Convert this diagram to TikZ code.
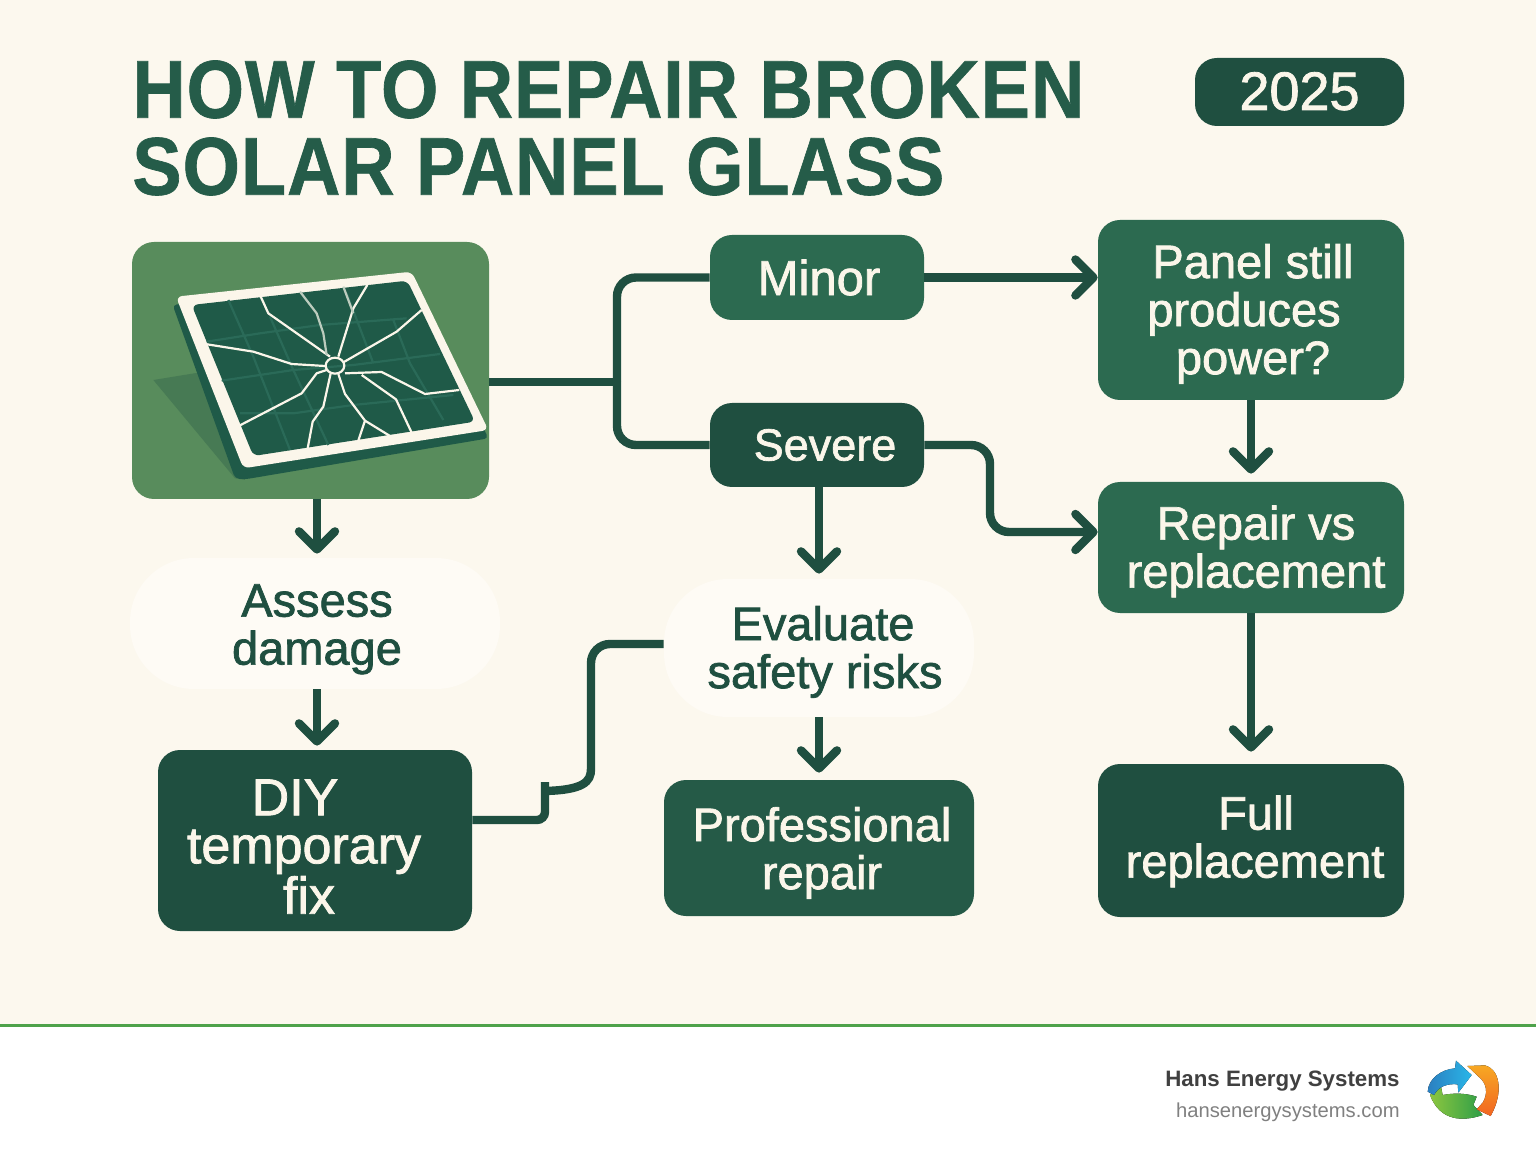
\documentclass[tikz,border=0pt]{standalone}
\usepackage{fontspec}
\setmainfont{Liberation Sans}
\newfontfamily\boxfont[FakeBold=1.5]{Liberation Sans}
\newfontfamily\titlefont[FakeStretch=0.9,LetterSpace=1.2,FakeBold=0.8]{Liberation Sans}
\usetikzlibrary{arrows.meta,positioning}
\definecolor{paper}{HTML}{FCF8EE}
\definecolor{deepgreen}{HTML}{1F4F40}
\definecolor{midgreen}{HTML}{2C6A50}
\definecolor{shadegreen}{HTML}{255A47}
\definecolor{titlegreen}{HTML}{255C49}
\definecolor{softwhite}{HTML}{FEFBF5}
\definecolor{glass}{HTML}{1F5A48}
\definecolor{gridteal}{HTML}{2A6A58}
\definecolor{grass}{HTML}{588C5C}
\definecolor{cream}{HTML}{FBF6EA}
\definecolor{rulegreen}{HTML}{4EA24A}
\newcommand{\dropline}[1]{\rule{0pt}{#1pt}}

\begin{document}
\begin{tikzpicture}[
x=0.5pt,y=-0.5pt,
box/.style={rounded corners=11pt,inner sep=0pt,align=center,font=\boxfont\fontsize{23.5}{24}\selectfont},
midbox/.style={box,fill=midgreen,text=cream},
darkbox/.style={box,fill=deepgreen,text=cream},
softbox/.style={box,rounded corners=32pt,fill=softwhite,text=deepgreen},
wire/.style={line width=4.2pt,draw=deepgreen,rounded corners=9.5pt},
flow/.style={wire,-{Straight Barb[length=9pt,width=18pt,round]},shorten >=2pt}]
    % Page and footer
    \fill[paper] (0,0) rectangle (1536,1154);
    \fill[white] (0,1025) rectangle (1536,1154);
    \fill[rulegreen] (0,1024) rectangle (1536,1027);

    \node[anchor=west,inner sep=0pt,align=left,text=titlegreen,font=\titlefont\bfseries\fontsize{41}{38.5}\selectfont] (title) at (132,128)
        {HOW TO REPAIR BROKEN\\SOLAR PANEL GLASS};
    \node[darkbox,minimum width=104.5pt,minimum height=34pt,font=\boxfont\fontsize{27}{27}\selectfont] (badge) at (1299.5,92) {\raisebox{1pt}{2025}};

    % Flow boxes
    \node[box,fill=grass,minimum width=178.5pt,minimum height=128.5pt] (img) at (310.5,370.5) {};
    \node[midbox,minimum width=107pt,minimum height=42.5pt,font=\boxfont\fontsize{24.5}{24}\selectfont] (minor) at (817,277.5) {\hspace*{2pt}Minor};
    \node[darkbox,minimum width=107pt,minimum height=42pt,font=\boxfont\fontsize{22.5}{24}\selectfont] (severe) at (817,445) {\hspace*{8pt}Severe};
    \node[midbox,minimum width=153pt,minimum height=90pt] (panel) at (1251,310) {\dropline{21}\hspace*{2pt}Panel still\\\hspace*{-7pt}produces\\\hspace*{2pt}power?};
    \node[midbox,minimum width=153pt,minimum height=65.5pt] (repair) at (1251,547.5) {\dropline{21}\hspace*{5pt}Repair vs\\\hspace*{5pt}replacement};
    \node[darkbox,minimum width=153pt,minimum height=76.5pt] (full) at (1251,840.5) {\dropline{18}\hspace*{5pt}Full\\\hspace*{4pt}replacement};
    \node[softbox,minimum width=185pt,minimum height=65.5pt] (assess) at (315,623.5) {\dropline{22}\hspace*{2pt}Assess\\\hspace*{2pt}damage};
    \node[softbox,minimum width=155pt,minimum height=69pt] (evalrisk) at (819,648) {\dropline{21}\hspace*{4pt}Evaluate\\\hspace*{6pt}safety risks};
    \node[darkbox,minimum width=157pt,minimum height=90.5pt,font=\boxfont\fontsize{26}{24}\selectfont] (diy) at (315,840.5) {\dropline{24}\hspace*{-20pt}DIY\\\hspace*{-11pt}temporary\\\hspace*{-6pt}fix};
    \node[box,fill=shadegreen,text=cream,minimum width=155pt,minimum height=68pt] (prof) at (819,848) {\dropline{22}\hspace*{3pt}Professional\\\hspace*{3pt}repair};

    % Solar panel, coordinates read off the crop at three times size
    \begin{scope}[shift={(120,230)},scale=1/3]
        \fill[grass!70!deepgreen] (100,450) -- (235,428) -- (375,750) -- (345,745) -- cycle;
        \fill[glass,rounded corners=2pt] (158,225) -- (875,135) -- (1105,625) -- (375,748) -- (345,745) -- cycle;
        \fill[cream,rounded corners=3pt] (168,200) -- (875,125) -- (1105,600) -- (370,715) -- cycle;
        \fill[glass,rounded corners=3pt] (215,225) -- (862,152) -- (1065,575) -- (400,678) -- cycle;
        \draw[gridteal,line width=1.1pt]
            (260,335) -- (420,310) -- (600,285) -- (860,265)
            (305,452) -- (520,420) -- (700,405) -- (960,372)
            (360,550) -- (520,550) -- (700,525) -- (1000,495)
            (325,210) -- (400,380) -- (510,660)
            (450,260) -- (520,420) -- (625,645)
            (680,190) -- (760,400)
            (820,270) -- (870,400) -- (970,570);
        \draw[cream,line width=1.1pt,line join=round]
            (420,195) -- (445,250) -- (630,380)
            (742,165) -- (700,235) -- (655,380)
            (905,240) -- (830,305) -- (670,397)
            (255,342) -- (400,365) -- (515,402) -- (615,408)
            (1018,480) -- (915,492) -- (785,426) -- (675,430)
            (875,608) -- (828,508) -- (725,435)
            (810,618) -- (735,572) -- (675,492) -- (655,432)
            (715,632) -- (735,572)
            (563,655) -- (578,575) -- (610,530) -- (632,430)
            (358,587) -- (545,490) -- (590,430) -- (620,420);
        \draw[cream!70!gridteal,line width=1.1pt]
            (540,185) -- (590,250) -- (610,310) -- (620,375)
            (670,170) -- (700,250);
        \draw[cream,line width=1.1pt] (645,407) ellipse (28 and 24);
    \end{scope}

    % Connectors
    \coordinate (fork) at (617,382);
    \coordinate (bend) at (990,532);
    \coordinate (jog) at (545,820);
    \coordinate (riser) at (591,644);
    \draw[wire] (img.east |- fork) -- (fork);
    \draw[wire] (fork) |- (minor.west);
    \draw[wire] (fork) |- (severe.west);
    \draw[flow,shorten >=0pt] (minor.east) -- (minor.east -| panel.west);
    \draw[flow,shorten >=0pt] (severe.east) -| (bend) -- (bend -| repair.west);
    \draw[flow,shorten >=4pt] (panel.south) -- (repair.north);
    \draw[flow,shorten >=6pt] (repair.south) -- (full.north);
    \draw[flow,shorten >=2.5pt] (severe.south -| evalrisk.north) -- (evalrisk.north);
    \draw[flow,shorten >=3.5pt] (evalrisk.south) -- (prof.north);
    \draw[flow] ([xshift=1pt]img.south -| assess.north) -- ([xshift=1pt]assess.north);
    \draw[flow] ([xshift=1pt]assess.south) -- ([xshift=1pt]diy.north);
    \draw[wire,rounded corners=4pt] (diy.east |- jog) -- (jog) -- (545,782);
    \draw[wire] (545,791) .. controls (583,790) and (591,782) .. (591,750) -- (riser) -- (riser -| evalrisk.west);

    % Footer text and logo
    \node[anchor=east,inner sep=0pt,text=black!75,font=\bfseries\fontsize{11.15}{14}\selectfont] (brand) at (1400,1081) {Hans Energy Systems};
    \node[anchor=east,inner sep=0pt,text=black!50,font=\fontsize{10.1}{12}\selectfont] (site) at (1400,1112) {hansenergysystems.com};
    \begin{scope}[shift={(1130,1040)},scale=1/3]
        \fill[left color={rgb,255:red,140;green,198;blue,63},right color={rgb,255:red,46;green,158;blue,72}] (900,165) -- (932,135) -- (938,165) .. controls (975,158) and (1010,160) .. (1040,170) -- (1030,195) -- (1058,225) .. controls (1000,245) and (930,245) .. (900,165) -- cycle;
        \fill[left color={rgb,255:red,43;green,127;blue,192},right color={rgb,255:red,41;green,182;blue,232}] (893,155) .. controls (895,115) and (935,88) .. (975,85) -- (978,62) -- (1025,105) -- (985,158) -- (983,133) .. controls (950,130) and (925,140) .. (912,165) -- cycle;
        \fill[top color={rgb,255:red,247;green,168;blue,35},bottom color={rgb,255:red,242;green,101;blue,34}] (1012,78) -- (1065,76) .. controls (1105,85) and (1125,150) .. (1082,228) -- (1040,208) -- (1058,188) .. controls (1075,160) and (1070,130) .. (1048,112) -- cycle;
    \end{scope}
\end{tikzpicture}
\end{document}
